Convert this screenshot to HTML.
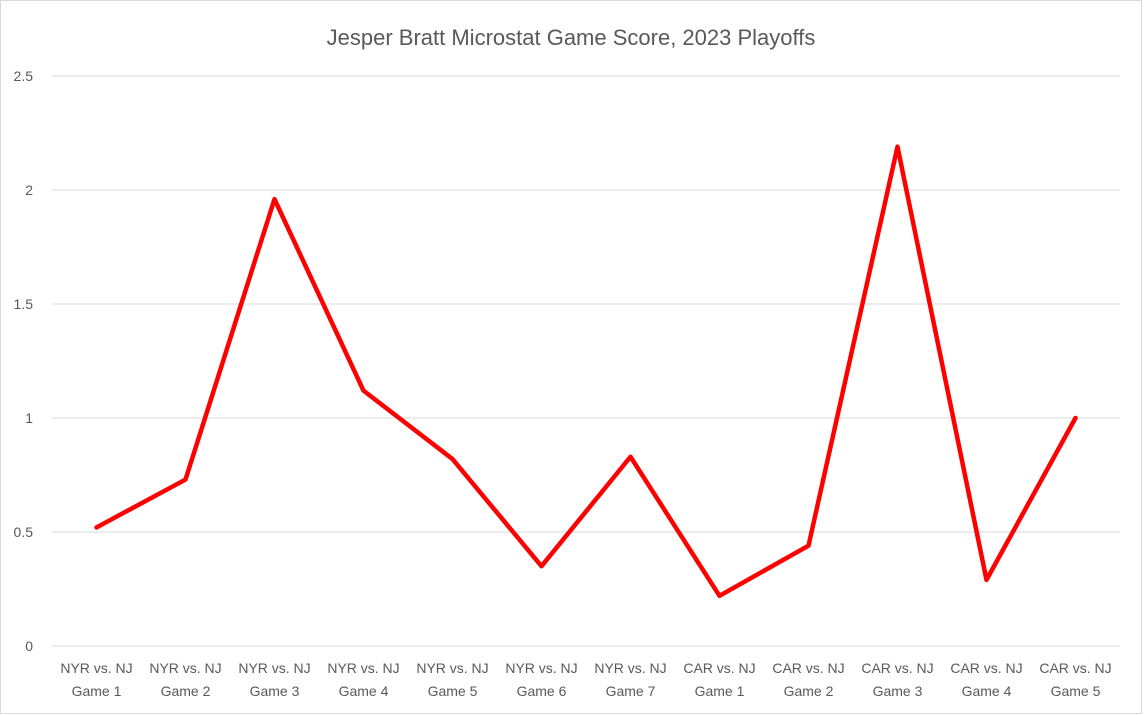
<!DOCTYPE html>
<html><head><meta charset="utf-8"><style>
html,body{margin:0;padding:0;background:#fff;}
svg{display:block;font-family:"Liberation Sans",Arial,sans-serif;}
</style></head><body>
<svg id="chart" width="1144" height="715" viewBox="0 0 1144 715">
<rect x="0.5" y="0.5" width="1141" height="713" fill="#fff" stroke="#d9d9d9"/>
<text x="571" y="45" text-anchor="middle" font-size="22" fill="#595959">Jesper Bratt Microstat Game Score, 2023 Playoffs</text>
<g id="grid"></g><g id="ylabels"></g><g id="xlabels"></g><g id="series"></g>
</svg>
<script>
const categoriesTop = ["NYR vs. NJ","NYR vs. NJ","NYR vs. NJ","NYR vs. NJ","NYR vs. NJ","NYR vs. NJ","NYR vs. NJ","CAR vs. NJ","CAR vs. NJ","CAR vs. NJ","CAR vs. NJ","CAR vs. NJ"];
const categoriesBottom = ["Game 1","Game 2","Game 3","Game 4","Game 5","Game 6","Game 7","Game 1","Game 2","Game 3","Game 4","Game 5"];
const gameScores = [0.52,0.73,1.96,1.12,0.82,0.35,0.83,0.22,0.44,2.19,0.29,1.0];
const yTicks = [0,0.5,1,1.5,2,2.5];
const yTickLabels = ["0","0.5","1","1.5","2","2.5"];

const NS="http://www.w3.org/2000/svg";
const plotLeft=52, plotRight=1120, y0=646, pxPerUnit=228;
const step=(plotRight-plotLeft)/categoriesTop.length;
const xScale=i=>plotLeft+step*(i+0.5);
const yScale=v=>y0-v*pxPerUnit;
function mk(tag,attrs,parent){const e=document.createElementNS(NS,tag);for(const k in attrs)e.setAttribute(k,attrs[k]);document.getElementById(parent).appendChild(e);return e;}

yTicks.forEach((t,i)=>{
  const g=mk("line",{x1:plotLeft,x2:plotRight,y1:yScale(t),y2:yScale(t),stroke:"#d9d9d9","stroke-width":1},"grid");
  
  
  const l=mk("text",{x:33,y:yScale(t)+5,"text-anchor":"end","font-size":14,fill:"#595959"},"ylabels");
  l.textContent=yTickLabels[i];
  
  
});
categoriesTop.forEach((c,i)=>{
  const t=mk("text",{x:xScale(i),y:673,"text-anchor":"middle","font-size":14,fill:"#595959"},"xlabels");
  t.textContent=c;
  
  
  const b=mk("text",{x:xScale(i),y:696,"text-anchor":"middle","font-size":14,fill:"#595959"},"xlabels");
  b.textContent=categoriesBottom[i];
  
  
});
const pts=gameScores.map((v,i)=>xScale(i)+","+yScale(v)).join(" ");
const line=mk("polyline",{points:pts,fill:"none",stroke:"#ff0000","stroke-width":4.5,"stroke-linejoin":"round","stroke-linecap":"round"},"series");


</script>
</body></html>
